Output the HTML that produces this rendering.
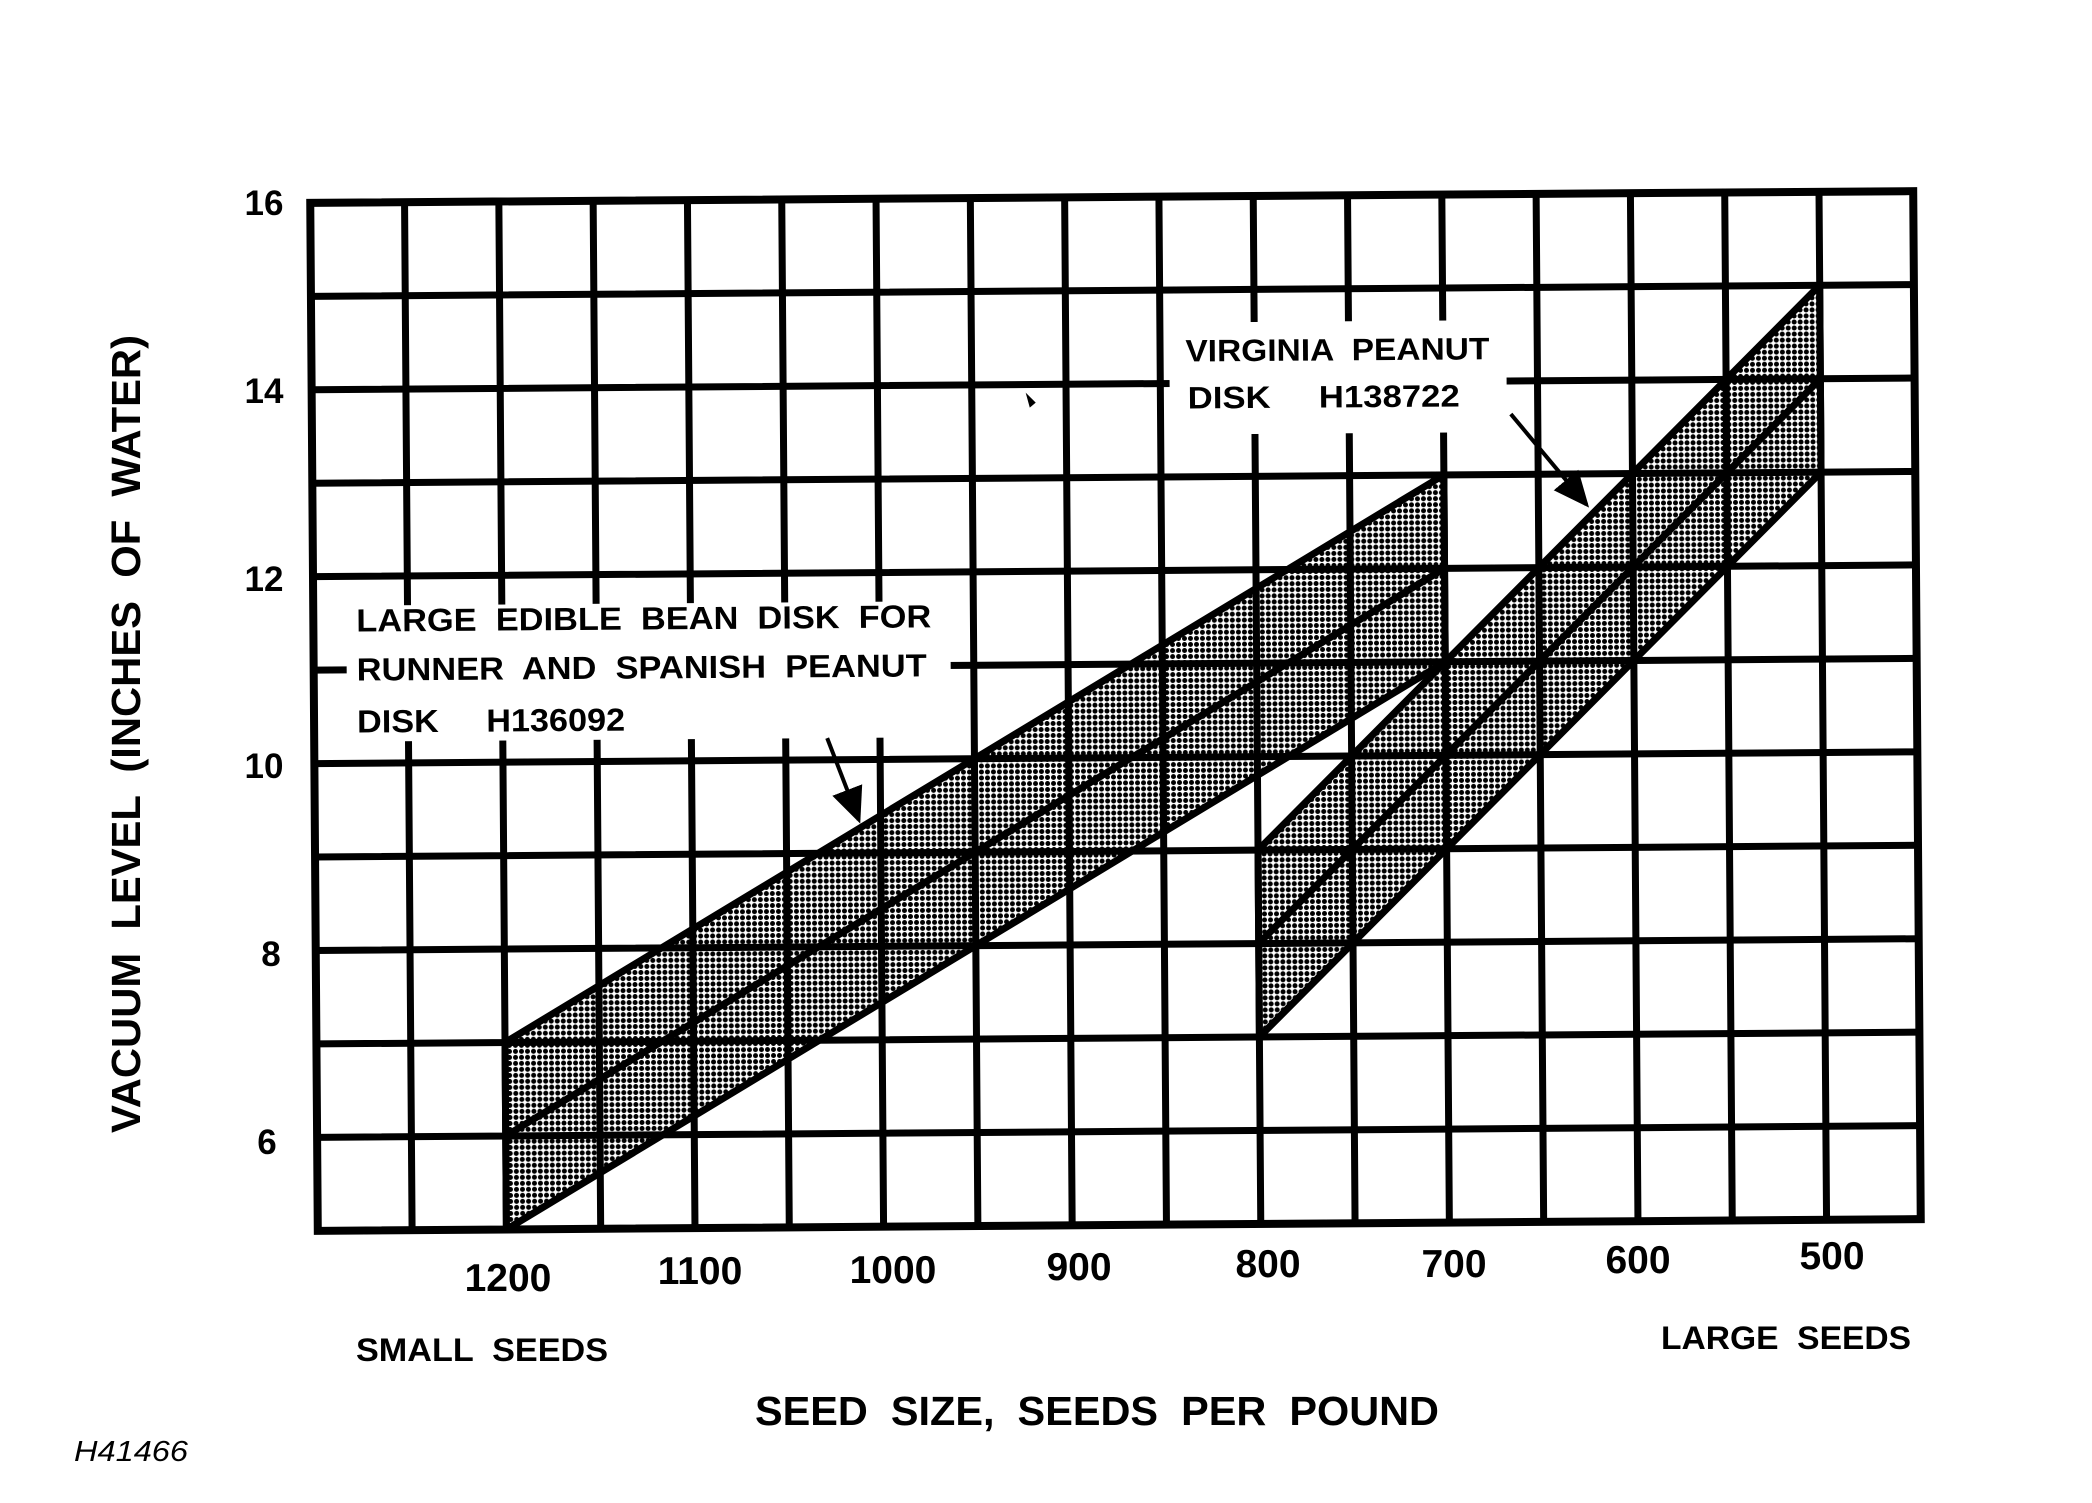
<!DOCTYPE html>
<html><head><meta charset="utf-8"><style>
html,body{margin:0;padding:0;background:#fff;}
svg{display:block;}
text{font-family:"Liberation Sans",sans-serif;font-weight:bold;fill:#000;}
</style></head><body>
<svg width="2092" height="1503" viewBox="0 0 2092 1503" xmlns="http://www.w3.org/2000/svg">
<defs>
<pattern id="dots" width="6" height="6" patternUnits="userSpaceOnUse">
<rect width="6" height="6" fill="#fff"/>
<circle cx="3" cy="3" r="2.5" fill="#000"/>
</pattern>
<marker id="ah" markerWidth="10" markerHeight="10" refX="8" refY="5" orient="auto" markerUnits="strokeWidth">
<path d="M0,1 L9,5 L0,9 Z" fill="#000"/>
</marker>
</defs>
<rect width="2092" height="1503" fill="#fff"/>
<g transform="rotate(-0.42 1115.5 711)">
<polygon points="502.6,1038.05 1445.6,477.35 1445.6,664.25 502.6,1225" fill="url(#dots)"/>
<polygon points="1257,851.15 1822.8,290.45 1822.8,477.35 1257,1038.05" fill="url(#dots)"/>
<g stroke="#000" stroke-width="7" fill="none">
<path d="M408.3,197V1225 M502.6,197V1225 M596.9,197V1225 M691.2,197V1225 M785.5,197V1225 M879.8,197V1225 M974.1,197V1225 M1068.4,197V1225 M1162.7,197V1225 M1257,197V1225 M1351.3,197V1225 M1445.6,197V1225 M1539.9,197V1225 M1634.2,197V1225 M1728.5,197V1225 M1822.8,197V1225"/>
<path d="M314,290.45H1917 M314,383.9H1917 M314,477.35H1917 M314,570.8H1917 M314,664.25H1917 M314,757.7H1917 M314,851.15H1917 M314,944.6H1917 M314,1038.05H1917 M314,1131.5H1917"/>
<rect x="314" y="197" width="1603" height="1028" stroke-width="8"/>
<g stroke-width="7" stroke-linejoin="miter">
<path d="M502.6,1038.05 L1445.6,477.35 M502.6,1131.5 L1445.6,570.8 M502.6,1225 L1445.6,664.25 M502.6,1038.05V1225 M1445.6,477.35V664.25"/>
<path d="M1257,851.15 L1822.8,290.45 M1257,944.6 L1822.8,383.9 M1257,1038.05 L1822.8,477.35 M1257,851.15V1038.05 M1822.8,290.45V477.35"/>
</g>
</g>
<rect x="347" y="600" width="604" height="136" fill="#fff"/>
<rect x="1172" y="323" width="337" height="112" fill="#fff"/>
<text x="357" y="626" font-size="32" textLength="575" lengthAdjust="spacingAndGlyphs" xml:space="preserve">LARGE  EDIBLE  BEAN  DISK  FOR</text>
<text x="357" y="675" font-size="32" textLength="570" lengthAdjust="spacingAndGlyphs" xml:space="preserve">RUNNER  AND  SPANISH  PEANUT</text>
<text x="357" y="727" font-size="32" textLength="268" lengthAdjust="spacingAndGlyphs" xml:space="preserve">DISK     H136092</text>
<text x="1188" y="362" font-size="31" textLength="304" lengthAdjust="spacingAndGlyphs" xml:space="preserve">VIRGINIA  PEANUT</text>
<text x="1190" y="409" font-size="31" textLength="272" lengthAdjust="spacingAndGlyphs" xml:space="preserve">DISK     H138722</text>
<line x1="1513" y1="417" x2="1588" y2="508" stroke="#000" stroke-width="4" marker-end="url(#ah)"/>
<line x1="827" y1="736" x2="858" y2="818" stroke="#000" stroke-width="4" marker-end="url(#ah)"/>
<path d="M1028,392 l10,10 -6,5z" fill="#000"/>
</g>
<g font-size="35" text-anchor="middle">
<text x="264" y="215">16</text>
<text x="264" y="403">14</text>
<text x="264" y="591">12</text>
<text x="264" y="778">10</text>
<text x="271" y="966">8</text>
<text x="267" y="1154">6</text>
</g>
<g font-size="39" text-anchor="middle">
<text x="508" y="1291">1200</text>
<text x="700" y="1284">1100</text>
<text x="893" y="1283">1000</text>
<text x="1079" y="1280">900</text>
<text x="1268" y="1277">800</text>
<text x="1454" y="1277">700</text>
<text x="1638" y="1273">600</text>
<text x="1832" y="1269">500</text>
</g>
<text x="356" y="1361" font-size="32" textLength="252" lengthAdjust="spacingAndGlyphs" xml:space="preserve">SMALL  SEEDS</text>
<text x="1661" y="1349" font-size="32" textLength="250" lengthAdjust="spacingAndGlyphs" xml:space="preserve">LARGE  SEEDS</text>
<text x="755" y="1425" font-size="41" textLength="684" lengthAdjust="spacingAndGlyphs" xml:space="preserve">SEED  SIZE,  SEEDS  PER  POUND</text>
<text transform="translate(140,734) rotate(-90)" x="0" y="0" font-size="41" text-anchor="middle" textLength="798" lengthAdjust="spacingAndGlyphs" xml:space="preserve">VACUUM  LEVEL  (INCHES  OF  WATER)</text>
<text x="74" y="1461" font-size="29" font-style="italic" style="font-weight:normal" textLength="114" lengthAdjust="spacingAndGlyphs">H41466</text>
</svg>
</body></html>
